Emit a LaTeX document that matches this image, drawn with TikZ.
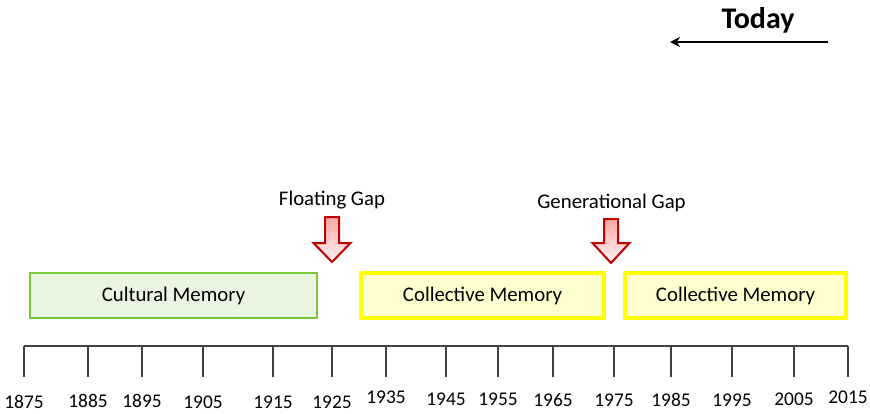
\documentclass[tikz,border=0pt]{standalone}
\usepackage{fontspec}
\setmainfont{Carlito}
\usetikzlibrary{arrows.meta}
\usetikzlibrary{positioning}

\definecolor{culturegreen}{RGB}{122,200,60}
\definecolor{culturefill}{RGB}{233,244,225}
\definecolor{collectyellow}{RGB}{255,255,0}
\definecolor{collectfill}{RGB}{255,255,208}
\definecolor{gapred}{RGB}{192,0,0}
\definecolor{axisgray}{RGB}{64,64,64}

\begin{document}
\begin{tikzpicture}[x=0.5pt,y=-0.5pt,every node/.style = {align=center,font=\fontsize{10.4}{12}\selectfont},
membox/.style={line width=1.3pt,minimum height=22.5pt,inner sep=0pt},
culture/.style={membox,draw=culturegreen,fill=culturefill},
collect/.style={membox,line width=1.6pt,draw=collectyellow,fill=collectfill},
gaparrow/.style={draw=gapred,line width=1pt,line join=miter,top color=red!35,bottom color=red!5},
yearlabel/.style={font=\fontsize{9.7}{11}\selectfont,anchor=base}]
\useasboundingbox (0,0) rectangle (870,413);
% today
\node[anchor=base,font=\fontsize{15}{18}\selectfont\bfseries] (today) at (758,28) {Today};
\coordinate (nowR) at (828,42);
\coordinate (nowL) at (670,42);
\draw [line width=1pt,-{Stealth[length=5pt,width=5pt]}] (nowR) to (nowL);
% gaps
\node[anchor=base] (floating) at (332,205) {Floating Gap};
\node[anchor=base] (generational) at (611.5,208) {Generational Gap};
\draw [gaparrow] (325,217) -- (339,217) -- (339,243) -- (350.5,243) -- (332,262)
    -- (313.5,243) -- (325,243) -- cycle;
\draw [gaparrow] (604,219) -- (618,219) -- (618,243) -- (629.5,243) -- (611,263)
    -- (592.5,243) -- (604,243) -- cycle;
% memories
\node[culture,minimum width=143.5pt] (cultural) at (173.5,295.5) {Cultural Memory};
\node[collect,minimum width=121.5pt] (collect1) at (482.5,295.5) {Collective Memory};
\node[collect,minimum width=110.5pt] (collect2) at (735.5,295.5) {Collective Memory};
% time line
\draw [axisgray,line width=0.8pt] (24,346) -- (848,346);
\foreach \x/\yr/\b in {24/1875/408,88/1885/407,142/1895/407,203/1905/408,273/1915/408,
    332/1925/408,386/1935/403,446/1945/405,498/1955/405,553/1965/406,614/1975/406,
    671/1985/406,732/1995/406,794/2005/405,848/2015/403}
{
    \draw [axisgray,line width=0.8pt] (\x,346) -- (\x,377);
    \node[yearlabel] (y\yr) at (\x,\b) {\yr};
}
\end{tikzpicture}
\end{document}
